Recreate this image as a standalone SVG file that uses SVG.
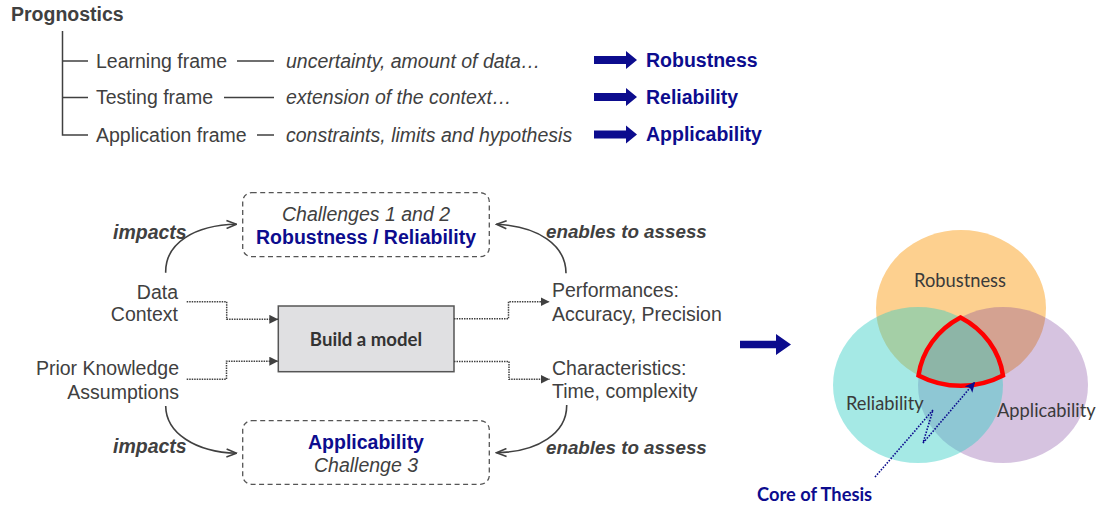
<svg xmlns="http://www.w3.org/2000/svg" width="1099" height="506" viewBox="0 0 1099 506">
<style>
.t{font-family:"Liberation Sans",Arial,sans-serif;font-size:19.5px;fill:#404040}
.i{font-style:italic}
.b{font-weight:bold}
.blue{fill:#0c0c8e}
.c{font-family:Lato,"Open Sans",sans-serif;font-size:18.3px;fill:#3a3a3a}
.ln{stroke:#404040;stroke-width:1.5;fill:none}
.dot{stroke:#404040;stroke-width:1.5;fill:none;stroke-dasharray:1.5 1}
.curve{stroke:#404040;stroke-width:1.6;fill:none;marker-end:url(#open)}
.dbox{fill:#fff;stroke:#555;stroke-width:1.3;stroke-dasharray:5 3.5}
.barrow{fill:#0c0c8e}
</style>
<defs>
<marker id="open" viewBox="0 0 12 10" refX="11" refY="5" markerWidth="12" markerHeight="10" markerUnits="userSpaceOnUse" orient="auto">
<path d="M1,1 L11,5 L1,9" fill="none" stroke="#404040" stroke-width="1.6"/>
</marker>
<marker id="tri" viewBox="0 0 10 10" refX="10" refY="5" markerWidth="9" markerHeight="9" markerUnits="userSpaceOnUse" orient="auto">
<path d="M0,0 L10,5 L0,10 Z" fill="#404040"/>
</marker>
<marker id="btri" viewBox="0 0 10 10" refX="10" refY="5" markerWidth="11" markerHeight="10" markerUnits="userSpaceOnUse" orient="auto">
<path d="M0,0 L10,5 L0,10 L2.5,5 Z" fill="#0c0c8e"/>
</marker>
</defs>
<rect width="1099" height="506" fill="#fff"/>

<g id="prognostics-tree">
<text class="t b" x="11" y="21">Prognostics</text>
<path class="ln" d="M62.5,31 V135 H88 M62.5,61 H88 M62.5,97.5 H88"/>
<text class="t" x="96" y="67.5">Learning frame</text>
<text class="t" x="96" y="104">Testing frame</text>
<text class="t" x="96" y="141.5">Application frame</text>
<path class="ln" d="M237,61 H274 M224,97.5 H274 M257,135 H274"/>
<text class="t i" x="286" y="67.5">uncertainty, amount of data…</text>
<text class="t i" x="286" y="104">extension of the context…</text>
<text class="t i" x="286" y="141.5">constraints, limits and hypothesis</text>
</g>

<g id="outcomes">
<path class="barrow" d="M594,56 H626 V51 L637,60 L626,69 V64 H594 Z"/>
<path class="barrow" d="M594,93 H626 V88 L637,97 L626,106 V101 H594 Z"/>
<path class="barrow" d="M594,130.5 H626 V125.5 L637,134.5 L626,143.5 V138.5 H594 Z"/>
<text class="t b blue" x="646" y="67">Robustness</text>
<text class="t b blue" x="646" y="103.5">Reliability</text>
<text class="t b blue" x="646" y="141">Applicability</text>
</g>

<g id="challenges-1-2">
<rect class="dbox" x="242.7" y="192.7" width="246.6" height="64" rx="9"/>
<text class="t i" x="366" y="220.5" text-anchor="middle">Challenges 1 and 2</text>
<text class="t b blue" x="366" y="243.5" text-anchor="middle">Robustness / Reliability</text>
</g>

<g id="challenge-3">
<rect class="dbox" x="242.7" y="420.7" width="246.6" height="63.6" rx="9"/>
<text class="t b blue" x="366" y="448.5" text-anchor="middle">Applicability</text>
<text class="t i" x="366" y="471.5" text-anchor="middle">Challenge 3</text>
</g>

<g id="build-model">
<rect x="278.3" y="306" width="175.7" height="65.7" fill="#e0e0e2" stroke="#555" stroke-width="1.5"/>
<text x="366" y="345.5" text-anchor="middle" style="font-family:Lato,'Open Sans',sans-serif;font-weight:bold;font-size:18.6px;fill:#333">Build a model</text>
</g>

<g id="inputs">
<text class="t" x="178" y="298.5" text-anchor="end">Data</text>
<text class="t" x="178" y="321" text-anchor="end">Context</text>
<text class="t" x="179" y="375" text-anchor="end">Prior Knowledge</text>
<text class="t" x="179" y="398.5" text-anchor="end">Assumptions</text>
</g>

<g id="outputs">
<text class="t" x="552" y="297">Performances:</text>
<text class="t" x="552" y="320.5">Accuracy, Precision</text>
<text class="t" x="552" y="374.5">Characteristics:</text>
<text class="t" x="552" y="398">Time, complexity</text>
</g>

<g id="edge-labels">
<text class="t b i" x="113" y="238.5">impacts</text>
<text class="t b i" x="113" y="452.5">impacts</text>
<text class="t b i" x="546" y="237.5" style="font-size:18.8px">enables to assess</text>
<text class="t b i" x="546" y="453.5" style="font-size:18.8px">enables to assess</text>
</g>

<g id="connectors">
<path class="dot" d="M186.7,301.7 H226.7 V319.3 H278.3" marker-end="url(#tri)"/>
<path class="dot" d="M186.7,379.3 H226.5 V361.2 H278.3" marker-end="url(#tri)"/>
<path class="dot" d="M454,318.8 H508.5 V301.7 H549.5" marker-end="url(#tri)"/>
<path class="dot" d="M454,361.5 H509 V379.3 H549.5" marker-end="url(#tri)"/>
<path class="curve" d="M165.7,272.7 C165,243 195,225 236.5,224.3"/>
<path class="curve" d="M165.7,406 C166,433 195,452 236.5,453.3"/>
<path class="curve" d="M566,273.3 C566,245 538,226 496.5,224.3"/>
<path class="curve" d="M566.7,405 C567,433 538,452 496.5,452.7"/>
<path class="barrow" d="M740,340.7 H776 V334 L791,344.5 L776,355 V348.3 H740 Z"/>
</g>

<g id="venn">
<ellipse cx="961" cy="308" rx="85" ry="78" fill="#fdd08f"/>
<ellipse cx="1003" cy="385" rx="85" ry="78" fill="#763799" fill-opacity="0.3"/>
<ellipse cx="918" cy="385" rx="85" ry="78" fill="#32cdc4" fill-opacity="0.44"/>
<path d="M960.5,317.5 A85,78 0 0,0 918.5,375.5 A85,78 0 0,0 1003,375.5 A85,78 0 0,0 960.5,317.5 Z" fill="none" stroke="#ff0000" stroke-width="4.5" stroke-linejoin="miter"/>
<text class="c" x="960" y="287" text-anchor="middle">Robustness</text>
<text class="c" x="846" y="410">Reliability</text>
<text class="c" x="997" y="417">Applicability</text>
</g>

<g id="core-of-thesis">
<polyline points="875,477 933,410 923,443 975,382" fill="none" stroke="#0c0c8e" stroke-width="1.6" stroke-dasharray="1.6 1.4" marker-end="url(#btri)"/>
<text x="757" y="501" style="font-family:Lato,'Open Sans',sans-serif;font-weight:bold;font-size:18.3px;fill:#0c0c8e">Core of Thesis</text>
</g>
</svg>
